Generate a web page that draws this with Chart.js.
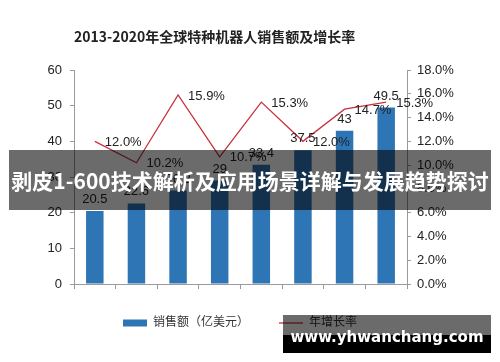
<!DOCTYPE html>
<html>
<head>
<meta charset="utf-8">
<script src="https://cdn.jsdelivr.net/npm/chart.js@4/dist/chart.umd.min.js"></script>
<style>
  html, body { margin: 0; padding: 0; background: #fff; }
  #wrap { position: relative; width: 500px; height: 362px; overflow: hidden; }
  #title {
    position: absolute; left: 74px; top: 26px;
    font: bold 14px 'Noto Sans CJK SC', sans-serif; color: #222; white-space: nowrap;
  }
  #banner {
    position: absolute; left: 9px; top: 150px; width: 482px; height: 60px;
    background: rgba(0,0,0,0.58); color: #fff; text-align: center;
    font: bold 21px 'Noto Sans CJK SC', sans-serif; line-height: 60px; white-space: nowrap;
  }
  #mark {
    position: absolute; left: 283px; top: 315px; width: 208px; height: 38px;
    background: linear-gradient(to bottom, rgba(0,0,0,0.58) 0, rgba(0,0,0,0.58) 20px, #000 20px, #000 38px);
    color: #fff; text-align: center;
    font: bold 15px 'DejaVu Sans', sans-serif; line-height: 44px; white-space: nowrap;
  }
</style>
</head>
<body>
<div id="wrap">
  <canvas id="chart" width="500" height="362"></canvas>
  <div id="title">2013-2020年全球特种机器人销售额及增长率</div>
  <div id="banner">剥皮1-600技术解析及应用场景详解与发展趋势探讨</div>
  <div id="mark">www.yhwanchang.com</div>
</div>
<script>
const years = ['2013', '2014', '2015', '2016', '2017', '2018*', '2019*', '2020*'];
const sales = [20.5, 22.6, 26.2, 29, 33.4, 37.5, 43, 49.5];
const growth = [12.0, 10.2, 15.9, 10.7, 15.3, 12.0, 14.7, 15.3];
const salesLabel = '销售额（亿美元）';
const growthLabel = '年增长率';

const FONT = "'Liberation Sans', 'Noto Sans CJK SC', sans-serif";
const axisColor = '#9a9a9a';

// etiquetas de valor sobre as barras e ao lado da linha
const valueLabels = {
    id: 'valueLabels',
    afterDatasetsDraw(chart) {
        const ctx = chart.ctx;
        ctx.save();
        ctx.font = '13px ' + FONT;
        ctx.fillStyle = '#222';

        const bars = chart.getDatasetMeta(0).data;
        ctx.textAlign = 'center';
        ctx.textBaseline = 'bottom';
        bars.forEach((bar, i) => {
            ctx.fillText(String(sales[i]), bar.x, bar.y - 5);
        });

        const points = chart.getDatasetMeta(1).data;
        ctx.textAlign = 'left';
        ctx.textBaseline = 'middle';
        points.forEach((p, i) => {
            ctx.fillText(growth[i].toFixed(1) + '%', p.x + 10, p.y + 1);
        });
        ctx.restore();
    }
};

const ctx = document.getElementById('chart').getContext('2d');
new Chart(ctx, {
    data: {
        labels: years,
        datasets: [{
            type: 'bar',
            label: salesLabel,
            data: sales,
            backgroundColor: '#2E75B6',
            categoryPercentage: 1.0,
            barPercentage: 0.42,
            yAxisID: 'y',
            order: 1
        }, {
            type: 'line',
            label: growthLabel,
            data: growth,
            borderColor: '#C8323F',
            backgroundColor: '#C8323F',
            borderWidth: 1.3,
            pointRadius: 0,
            tension: 0,
            yAxisID: 'y1',
            order: 0
        }]
    },
    options: {
        responsive: false,
        animation: false,
        layout: { padding: { top: 70, left: 0, right: 20, bottom: 23 } },
        plugins: {
            title: { display: false },
            tooltip: { enabled: false },
            legend: {
                position: 'bottom',
                labels: {
                    usePointStyle: true,
                    pointStyleWidth: 24,
                    boxHeight: 7,
                    padding: 30,
                    color: '#333',
                    font: { size: 12, family: FONT },
                    sort: (a, b) => a.datasetIndex - b.datasetIndex,
                    generateLabels(chart) {
                        const items = Chart.defaults.plugins.legend.labels.generateLabels(chart);
                        items.forEach(it => {
                            it.pointStyle = it.datasetIndex === 0 ? 'rect' : 'line';
                            it.lineWidth = it.datasetIndex === 0 ? 0 : 1.3;
                        });
                        return items;
                    }
                }
            }
        },
        scales: {
            x: {
                afterFit(scale) { scale.height = 3; },
                grid: { drawOnChartArea: false, drawTicks: true, tickLength: 5, color: axisColor },
                border: { color: axisColor },
                ticks: { color: '#222', padding: 6, font: { size: 13, family: FONT } }
            },
            y: {
                position: 'left',
                min: 0, max: 60,
                afterFit(scale) { scale.width = 74; },
                grid: { drawOnChartArea: false, drawTicks: true, tickLength: 4, color: axisColor },
                border: { color: axisColor },
                ticks: { stepSize: 10, color: '#222', padding: 8, font: { size: 13, family: FONT } }
            },
            y1: {
                position: 'right',
                min: 0, max: 18,
                afterFit(scale) { scale.width = 73; },
                grid: { drawOnChartArea: false, drawTicks: true, tickLength: 4, color: axisColor },
                border: { color: axisColor },
                ticks: {
                    stepSize: 2, color: '#222', padding: 6, font: { size: 13, family: FONT },
                    callback: v => v.toFixed(1) + '%'
                }
            }
        }
    },
    plugins: [valueLabels]
});
</script>
</body>
</html>
